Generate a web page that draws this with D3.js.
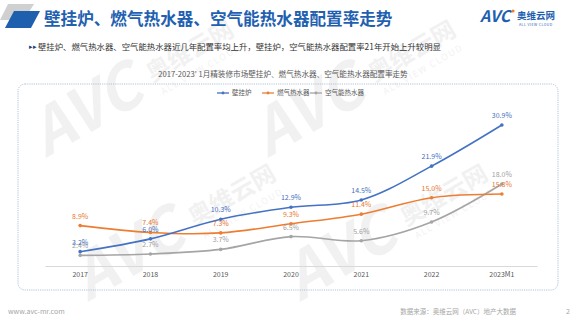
<!DOCTYPE html>
<html><head><meta charset="utf-8">
<script src="https://cdn.jsdelivr.net/npm/d3@7"></script>
<style>
html,body{margin:0;padding:0;background:#fff;}
svg{display:block;}
text{font-family:"Noto Sans CJK SC","Noto Sans",sans-serif;}
</style></head>
<body>
<svg id="c" width="577" height="323"></svg>
<script>
const years = ["2017","2018","2019","2020","2021","2022","2023M1"];
const seriesNames = ["壁挂炉","燃气热水器","空气能热水器"];
const wallBoiler = [3.2, 6.0, 10.3, 12.9, 14.5, 21.9, 30.9];
const gasHeater = [8.9, 7.4, 7.3, 9.3, 11.4, 15.0, 15.8];
const airHeater = [2.4, 2.7, 3.7, 6.5, 5.6, 9.7, 18.0];
const colors = ["#4472c4","#ed7d31","#a5a5a5"];
const labelColors = ["#3f6fc0","#e8772c","#a0a0a0"];

const title = "壁挂炉、燃气热水器、空气能热水器配置率走势";
const subtitle = "壁挂炉、燃气热水器、空气能热水器近几年配置率均上升，壁挂炉，空气能热水器配置率21年开始上升较明显";
const chartTitle = "2017-2023'  1月精装修市场壁挂炉、燃气热水器、空气能热水器配置率走势";

const svg = d3.select("#c");

// watermarks
function watermark(x, y){
  const g = svg.append("g").attr("transform",`translate(${x},${y}) rotate(-30)`).attr("fill","#000").attr("opacity",0.05);
  g.append("text").attr("x",0).attr("y",0).attr("font-family","Liberation Sans, Arial, sans-serif")
    .attr("font-weight","bold").attr("font-style","italic").attr("font-size",62).text("AVC");
  g.append("text").attr("x",130).attr("y",-12).attr("font-weight","bold").attr("font-size",24).text("奥维云网");
  g.append("text").attr("x",133).attr("y",4).attr("font-family","Liberation Sans, Arial, sans-serif")
    .attr("font-size",9).attr("letter-spacing",1.5).text("ALL VIEW CLOUD");
}
watermark(88, 302);
watermark(300, 302);
watermark(46, 158);
watermark(268, 158);

// header
svg.append("polygon").attr("points","8,4 34,4 24,20 0,20").attr("fill","#d0d0d0");
svg.append("polygon").attr("points","14,11 40,11 31,28 5,28").attr("fill","#1e5fae");
svg.append("text").attr("x",44).attr("y",25).attr("font-size",16.6).attr("font-weight","bold")
  .attr("fill","#1f61b0").text(title);

// logo
const logo = svg.append("g");
logo.append("text").attr("x",480).attr("y",22).attr("font-family","Liberation Sans, Arial, sans-serif")
  .attr("font-weight","bold").attr("font-style","italic").attr("font-size",16).attr("fill","#1f5fb0").text("AVC");
logo.append("circle").attr("cx",513).attr("cy",11).attr("r",1.6).attr("fill","#ed7d31");
logo.append("text").attr("x",517).attr("y",19).attr("font-weight","bold").attr("font-size",9.5).attr("fill","#1f5fb0").text("奥维云网");
logo.append("text").attr("x",519).attr("y",26).attr("font-family","Liberation Sans, Arial, sans-serif")
  .attr("font-size",3.6).attr("letter-spacing",0.4).attr("fill","#1f5fb0").text("ALL VIEW CLOUD");

// subtitle
svg.append("text").attr("x",29).attr("y",49).attr("font-size",7).attr("fill","#1f3f7a").text("▸▸");
svg.append("text").attr("x",38).attr("y",49.5).attr("font-size",8.4).attr("fill","#333").text(subtitle);

// chart title
svg.append("text").attr("x",283).attr("y",77).attr("text-anchor","middle").attr("font-size",7.6)
  .attr("fill","#595959").text(chartTitle);

// box
svg.append("rect").attr("x",18).attr("y",84).attr("width",540).attr("height",206).attr("rx",7)
  .attr("fill","none").attr("stroke","#a8bdd2").attr("stroke-width",0.9).attr("stroke-dasharray","1.2,1");

// legend
const legendX = [217, 262, 310];
seriesNames.forEach((n,i)=>{
  const lg = svg.append("g").attr("transform",`translate(${legendX[i]},93)`);
  lg.append("line").attr("x1",0).attr("x2",12).attr("y1",0).attr("y2",0).attr("stroke",colors[i]).attr("stroke-width",1.3);
  lg.append("circle").attr("cx",6).attr("cy",0).attr("r",1.4).attr("fill",colors[i]);
  lg.append("text").attr("x",15).attr("y",2.3).attr("font-size",6.5).attr("fill","#595959").text(n);
});

// scales
const x = d3.scaleBand().domain(years).range([45,537]).padding(0);
const y = d3.scaleLinear().domain([0,40]).range([266.3,83.4]);

// axis
const axis = d3.axisBottom(x).tickSize(0).tickPadding(6);
const ag = svg.append("g").attr("transform","translate(0,266)").call(axis);
ag.select(".domain").attr("stroke","#d9d9d9").attr("stroke-width",1);
ag.selectAll("text").attr("font-size",7).attr("fill","#595959")
  .attr("font-family","\"Noto Sans CJK SC\",sans-serif");

const data = [wallBoiler, gasHeater, airHeater];
const line = d3.line().x((d,i)=>x(years[i])+x.bandwidth()/2).y(d=>y(d)).curve(d3.curveCatmullRom.alpha(0.5));

[2,1,0].forEach(s=>{
  svg.append("path").datum(data[s]).attr("d",line).attr("fill","none")
    .attr("stroke",colors[s]).attr("stroke-width",1.6);
  svg.append("g").selectAll("circle").data(data[s]).join("circle")
    .attr("cx",(d,i)=>x(years[i])+x.bandwidth()/2).attr("cy",d=>y(d)).attr("r",1.8).attr("fill",colors[s]);
});
[2,1,0].forEach(s=>{
  svg.append("g").selectAll("text").data(data[s]).join("text")
    .attr("x",(d,i)=>x(years[i])+x.bandwidth()/2).attr("y",d=>y(d)-7)
    .attr("text-anchor","middle").attr("font-size",7).attr("fill",labelColors[s])
    .text(d=>d.toFixed(1)+"%");
});

// footer
svg.append("text").attr("x",8).attr("y",314).attr("font-size",7).attr("fill","#a6a6a6")
  .attr("font-family","Liberation Sans, Arial, sans-serif").text("www.avc-mr.com");
svg.append("text").attr("x",516).attr("y",314).attr("text-anchor","end").attr("font-size",6.5).attr("fill","#a6a6a6")
  .text("数据来源：奥维云网（AVC）地产大数据");
svg.append("text").attr("x",566).attr("y",314).attr("font-size",7).attr("fill","#a6a6a6").text("2");
</script>
</body></html>
